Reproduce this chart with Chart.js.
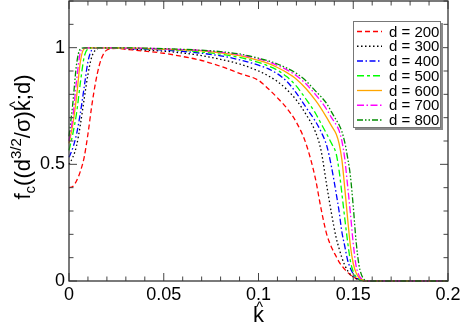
<!DOCTYPE html>
<html>
<head>
<meta charset="utf-8">
<script src="https://cdn.jsdelivr.net/npm/chart.js@4.4.0/dist/chart.umd.min.js"></script>
<style>
  html, body { margin: 0; padding: 0; background: #fff; }
</style>
</head>
<body>
<canvas id="fcChart" width="463" height="329"></canvas>
<script>
// k-hat grid shared by all curves
var kHat = [0, 0.002, 0.004, 0.006, 0.008, 0.010, 0.012, 0.014, 0.016, 0.018,
  0.020, 0.025, 0.03, 0.04, 0.05, 0.06, 0.07, 0.08, 0.09, 0.10,
  0.105, 0.11, 0.115, 0.12, 0.125, 0.13, 0.133, 0.136, 0.1385, 0.141,
  0.1425, 0.144, 0.1455, 0.147, 0.1485, 0.15, 0.1515, 0.153, 0.155, 0.158,
  0.165, 0.2];

// f_c values, one array per d
var f200 = [0.40, 0.405, 0.43, 0.47, 0.53, 0.63, 0.75, 0.85, 0.925, 0.97,
  0.99, 0.997, 0.993, 0.985, 0.976, 0.962, 0.945, 0.92, 0.89, 0.86,
  0.825, 0.785, 0.74, 0.68, 0.59, 0.44, 0.31, 0.20, 0.145, 0.105,
  0.082, 0.065, 0.05, 0.037, 0.026, 0.018, 0.011, 0.006, 0.002, 0,
  0, 0];
var f300 = [0.50, 0.53, 0.58, 0.67, 0.78, 0.885, 0.96, 0.99, 0.998, 0.999,
  0.999, 0.998, 0.996, 0.99, 0.985, 0.977, 0.966, 0.95, 0.93, 0.90,
  0.88, 0.855, 0.82, 0.775, 0.715, 0.64, 0.56, 0.41, 0.29, 0.185,
  0.14, 0.10, 0.068, 0.045, 0.028, 0.017, 0.01, 0.005, 0.002, 0,
  0, 0];
var f400 = [0.53, 0.57, 0.63, 0.72, 0.83, 0.94, 0.99, 0.998, 0.999, 0.999,
  0.999, 0.999, 0.997, 0.994, 0.99, 0.984, 0.976, 0.965, 0.948, 0.925,
  0.91, 0.888, 0.855, 0.805, 0.745, 0.685, 0.64, 0.58, 0.49, 0.375,
  0.30, 0.21, 0.15, 0.09, 0.055, 0.03, 0.015, 0.007, 0.002, 0,
  0, 0];
var f500 = [0.56, 0.63, 0.72, 0.85, 0.96, 0.995, 0.999, 0.999, 0.999, 0.999,
  0.999, 0.999, 0.998, 0.996, 0.993, 0.988, 0.981, 0.972, 0.958, 0.937,
  0.922, 0.903, 0.875, 0.835, 0.78, 0.72, 0.675, 0.63, 0.59, 0.545,
  0.475, 0.375, 0.27, 0.17, 0.085, 0.04, 0.018, 0.007, 0.002, 0,
  0, 0];
var f600 = [0.59, 0.67, 0.79, 0.94, 0.995, 0.999, 0.999, 0.999, 0.999, 0.999,
  0.999, 0.999, 0.998, 0.997, 0.994, 0.991, 0.986, 0.978, 0.966, 0.946,
  0.933, 0.915, 0.893, 0.865, 0.825, 0.775, 0.74, 0.70, 0.665, 0.63,
  0.59, 0.52, 0.40, 0.27, 0.15, 0.075, 0.035, 0.015, 0.004, 0,
  0, 0];
var f700 = [0.60, 0.70, 0.86, 0.98, 0.998, 0.999, 0.999, 0.999, 0.999, 0.999,
  0.999, 0.999, 0.998, 0.997, 0.995, 0.992, 0.988, 0.981, 0.97, 0.952,
  0.94, 0.924, 0.905, 0.88, 0.845, 0.80, 0.77, 0.735, 0.70, 0.67,
  0.645, 0.60, 0.525, 0.41, 0.29, 0.16, 0.065, 0.025, 0.006, 0,
  0, 0];
var f800 = [0.62, 0.76, 0.93, 0.995, 0.999, 0.999, 0.999, 0.999, 0.999, 0.999,
  0.999, 0.999, 0.999, 0.998, 0.996, 0.993, 0.989, 0.983, 0.973, 0.955,
  0.944, 0.93, 0.912, 0.89, 0.858, 0.815, 0.79, 0.76, 0.725, 0.69,
  0.67, 0.64, 0.595, 0.53, 0.45, 0.32, 0.17, 0.07, 0.015, 0,
  0, 0];

var seriesLabels = ['d = 200', 'd = 300', 'd = 400', 'd = 500', 'd = 600', 'd = 700', 'd = 800'];
var seriesValues = [f200, f300, f400, f500, f600, f700, f800];
var seriesColors = ['#ff0000', '#000000', '#0000ff', '#00ff00', '#ffa500', '#ff00ff', '#008c00'];
var seriesDashes = [[5, 3], [1.5, 2.5], [6, 2.5, 1.5, 2.5], [7, 3, 3, 3], [], [7, 2.5, 1.5, 2.5], [6, 2, 1.5, 2, 1.5, 2]];

var xTicks = [0, 0.05, 0.1, 0.15, 0.2];
var yTicks = [0, 0.5, 1];

var FONT = "'Liberation Sans', Arial, sans-serif";

var datasets = seriesLabels.map(function (lab, i) {
  return {
    label: lab,
    data: kHat.map(function (k, j) { return { x: k, y: seriesValues[i][j] }; }),
    borderColor: seriesColors[i],
    borderDash: seriesDashes[i],
    borderWidth: 1.3,
    pointRadius: 0,
    cubicInterpolationMode: 'monotone',
    fill: false,
    clip: 3,
    order: seriesLabels.length - i
  };
});

// "k" with a hat drawn over it
function hatK(ctx, x, y, size) {
  ctx.font = size + 'px ' + FONT;
  var w = ctx.measureText('k').width;
  ctx.fillText('k', x, y);
  ctx.font = Math.round(size * 0.7) + 'px ' + FONT;
  var hw = ctx.measureText('^').width;
  ctx.fillText('^', x + (w - hw) / 2 + 1, y - size * 0.45);
  return w;
}

// frame, inward ticks, titles and boxed legend
var decorPlugin = {
  id: 'decor',
  afterDatasetsDraw: function (chart) {
    var ctx = chart.ctx;
    var a = chart.chartArea;
    var xs = chart.scales.x, ys = chart.scales.y;
    ctx.save();

    // ticks
    ctx.strokeStyle = '#444';
    ctx.lineWidth = 1;
    ctx.setLineDash([]);
    ctx.beginPath();
    for (var i = 0; i <= 20; i++) {
      var px = xs.getPixelForValue(i * 0.01);
      var len = (i % 5 === 0) ? 8 : 4.5;
      ctx.moveTo(px, a.bottom); ctx.lineTo(px, a.bottom - len);
      ctx.moveTo(px, a.top); ctx.lineTo(px, a.top + len);
    }
    for (var j = 0; j <= 12; j++) {
      var py = ys.getPixelForValue(j * 0.1);
      var len2 = (j % 5 === 0) ? 8 : 4.5;
      ctx.moveTo(a.left, py); ctx.lineTo(a.left + len2, py);
      ctx.moveTo(a.right, py); ctx.lineTo(a.right - len2, py);
    }
    ctx.stroke();

    // frame
    ctx.strokeStyle = '#333';
    ctx.lineWidth = 1.3;
    ctx.strokeRect(a.left, a.top, a.right - a.left, a.bottom - a.top);

    // legend box with shadow
    var lx = 353, ly = 21, lw = 88, lh = 107;
    ctx.fillStyle = '#8a8a8a';
    ctx.fillRect(lx + 2, ly + 2, lw, lh);
    ctx.fillStyle = '#fff';
    ctx.fillRect(lx, ly, lw, lh);
    ctx.strokeStyle = '#777';
    ctx.lineWidth = 1;
    ctx.strokeRect(lx + 0.5, ly + 0.5, lw - 1, lh - 1);

    ctx.font = '15px ' + FONT;
    ctx.textBaseline = 'middle';
    ctx.textAlign = 'left';
    chart.data.datasets.forEach(function (ds, i) {
      var y = 31.5 + i * 14.75;
      ctx.strokeStyle = ds.borderColor;
      ctx.lineWidth = 1.3;
      ctx.setLineDash(ds.borderDash);
      ctx.beginPath();
      ctx.moveTo(357, y); ctx.lineTo(382, y);
      ctx.stroke();
      ctx.setLineDash([]);
      ctx.fillStyle = '#000';
      ctx.fillText(ds.label, 389, y + 1);
    });

    // x title
    ctx.fillStyle = '#000';
    ctx.textAlign = 'left';
    ctx.textBaseline = 'alphabetic';
    ctx.font = '22px ' + FONT;
    var kw = ctx.measureText('k').width;
    hatK(ctx, (a.left + a.right) / 2 - kw / 2, 322, 22);

    // y title with sub/superscripts, rotated
    var parts = [
      { t: 'f', s: 22, dy: 0 },
      { t: 'c', s: 15, dy: 5 },
      { t: '((d', s: 22, dy: 0 },
      { t: '3/2', s: 15, dy: -9 },
      { t: '/\u03c3)', s: 22, dy: 0 },
      { t: 'k', s: 22, dy: 0, hat: true },
      { t: ';d)', s: 22, dy: 0 }
    ];
    var total = 0;
    parts.forEach(function (p) { ctx.font = p.s + 'px ' + FONT; p.w = ctx.measureText(p.t).width; total += p.w; });
    ctx.translate(30, (a.top + a.bottom) / 2 - 4);
    ctx.rotate(-Math.PI / 2);
    var x0 = -total / 2;
    parts.forEach(function (p) {
      if (p.hat) {
        hatK(ctx, x0, p.dy, p.s);
      } else {
        ctx.font = p.s + 'px ' + FONT;
        ctx.fillText(p.t, x0, p.dy);
      }
      x0 += p.w;
    });
    ctx.restore();
  }
};

var chartConfig = {
  type: 'line',
  data: { datasets: datasets },
  options: {
    responsive: false,
    animation: false,
    layout: { padding: { top: 1, right: 15, left: 0, bottom: 0 } },
    plugins: { legend: { display: false }, tooltip: { enabled: false } },
    scales: {
      x: {
        type: 'linear',
        min: 0,
        max: 0.2,
        grid: { display: false, drawTicks: false },
        border: { display: false },
        afterBuildTicks: function (s) { s.ticks = xTicks.map(function (v) { return { value: v }; }); },
        ticks: {
          padding: 3,
          maxRotation: 0,
          color: '#000',
          font: { family: FONT, size: 18 },
          callback: function (v) { return String(+v.toFixed(3)); }
        },
        afterFit: function (s) { s.height = 48; s.paddingLeft = 0; s.paddingRight = 0; }
      },
      y: {
        type: 'linear',
        min: 0,
        max: 1.2,
        grid: { display: false, drawTicks: false },
        border: { display: false },
        afterBuildTicks: function (s) { s.ticks = yTicks.map(function (v) { return { value: v }; }); },
        ticks: {
          padding: 4,
          color: '#000',
          font: { family: FONT, size: 18 },
          callback: function (v) { return String(+v.toFixed(2)); }
        },
        afterFit: function (s) { s.width = 69; s.paddingTop = 0; s.paddingBottom = 0; }
      }
    }
  },
  plugins: [decorPlugin]
};

var fcChart = new Chart(document.getElementById('fcChart').getContext('2d'), chartConfig);
</script>
</body>
</html>
